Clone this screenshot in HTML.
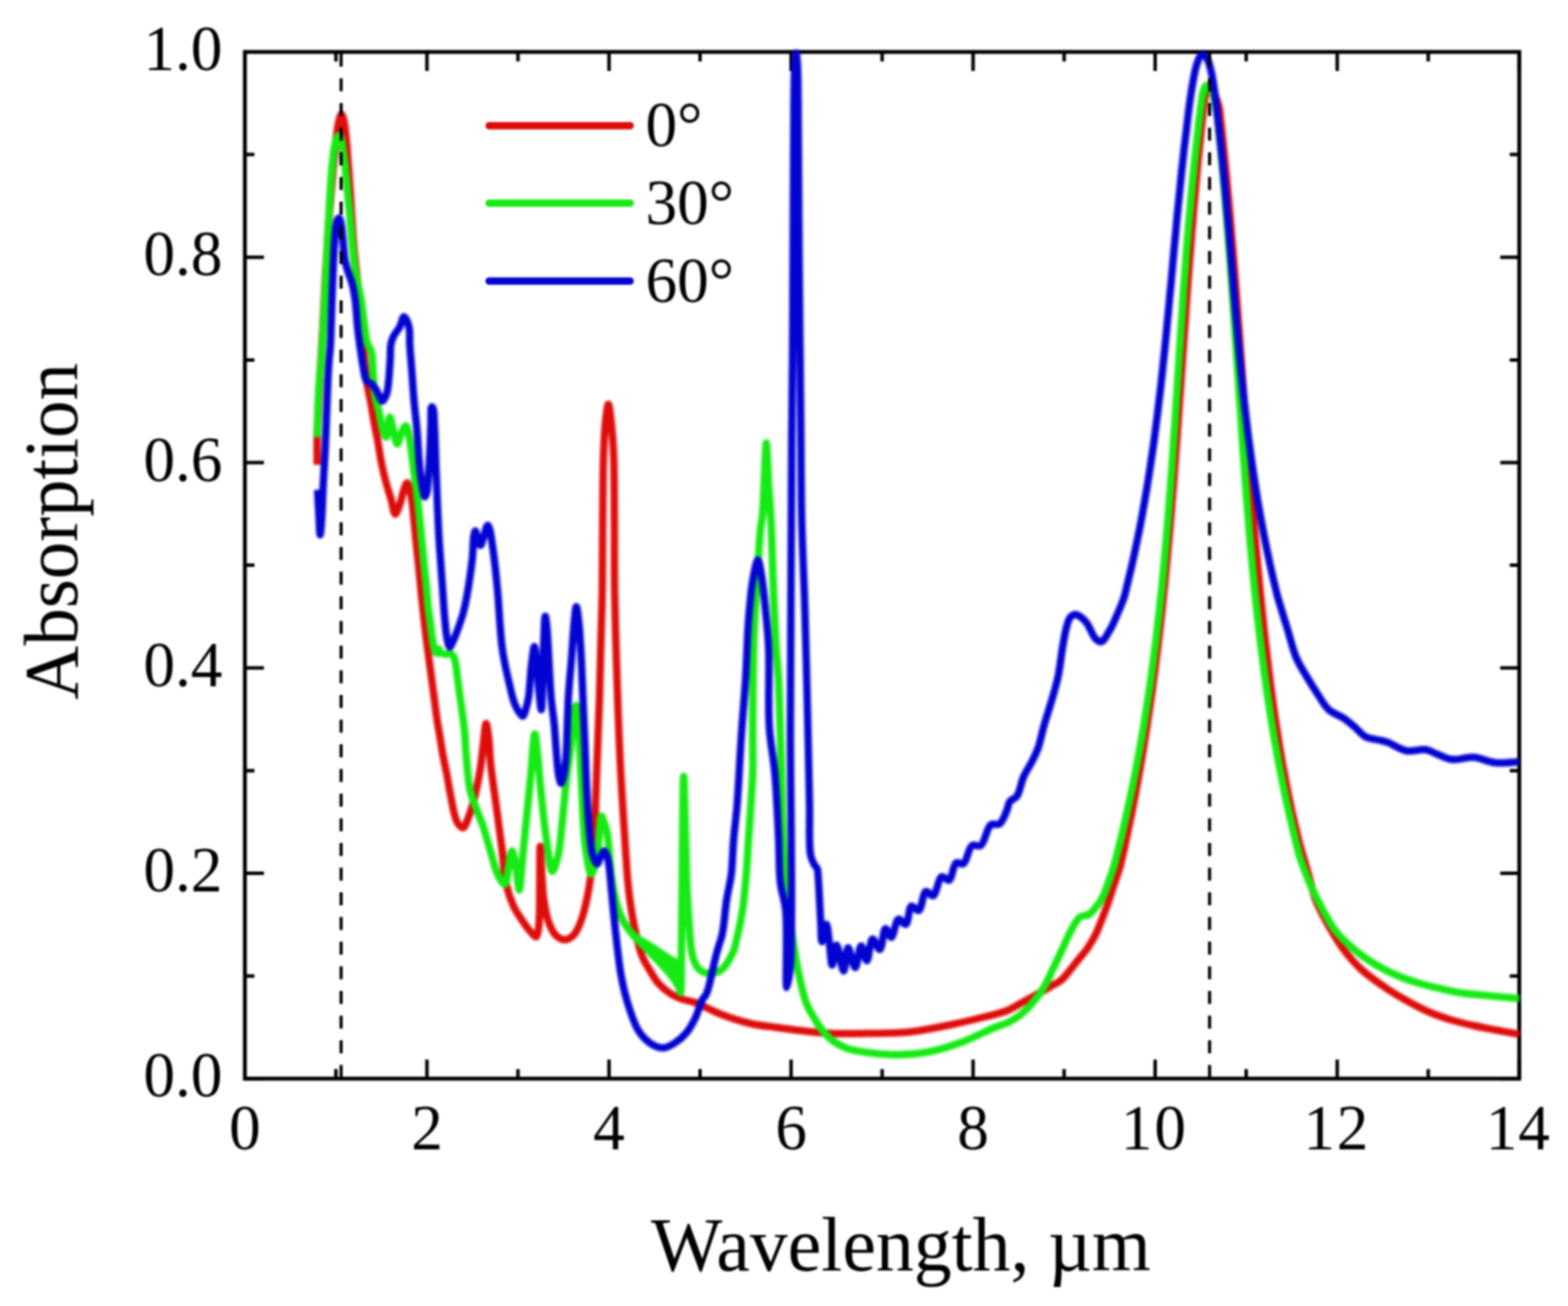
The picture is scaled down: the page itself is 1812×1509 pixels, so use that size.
<!DOCTYPE html>
<html><head><meta charset="utf-8"><style>html,body{margin:0;padding:0;background:#fff;}svg{display:block;filter:blur(1.0px);}</style></head><body>
<svg width="1812" height="1509" viewBox="0 0 1812 1509">
<rect x="0" y="0" width="1812" height="1509" fill="#fff"/>
<rect x="283.0" y="60.0" width="1472.7" height="1186.3" fill="none" stroke="#000" stroke-width="4.5"/>
<path d="M283.0,1246.3v-22M283.0,60.0v22M388.2,1246.3v-11M388.2,60.0v11M493.4,1246.3v-22M493.4,60.0v22M598.6,1246.3v-11M598.6,60.0v11M703.8,1246.3v-22M703.8,60.0v22M809.0,1246.3v-11M809.0,60.0v11M914.2,1246.3v-22M914.2,60.0v22M1019.4,1246.3v-11M1019.4,60.0v11M1124.5,1246.3v-22M1124.5,60.0v22M1229.7,1246.3v-11M1229.7,60.0v11M1334.9,1246.3v-22M1334.9,60.0v22M1440.1,1246.3v-11M1440.1,60.0v11M1545.3,1246.3v-22M1545.3,60.0v22M1650.5,1246.3v-11M1650.5,60.0v11M1755.7,1246.3v-22M1755.7,60.0v22M283.0,1246.3h22M1755.7,1246.3h-22M283.0,1127.7h11M1755.7,1127.7h-11M283.0,1009.0h22M1755.7,1009.0h-22M283.0,890.4h11M1755.7,890.4h-11M283.0,771.8h22M1755.7,771.8h-22M283.0,653.1h11M1755.7,653.1h-11M283.0,534.5h22M1755.7,534.5h-22M283.0,415.9h11M1755.7,415.9h-11M283.0,297.3h22M1755.7,297.3h-22M283.0,178.6h11M1755.7,178.6h-11M283.0,60.0h22M1755.7,60.0h-22" stroke="#000" stroke-width="4.0" fill="none"/>
<svg x="280.0" y="57.0" width="1478.7" height="1192.3" viewBox="280.0 57.0 1478.7 1192.3" overflow="hidden">
<g fill="none" stroke-width="8.5" stroke-linejoin="round" stroke-linecap="butt">
<path d="M366.50,537.00C366.50,537.00 366.29,517.52 366.50,507.00C366.74,495.31 367.43,482.57 368.00,470.00C368.59,456.93 369.23,444.07 370.00,430.00C370.87,414.26 372.04,397.43 373.00,380.00C374.05,360.91 374.95,339.09 376.00,320.00C376.96,302.57 377.94,285.73 379.00,270.00C379.95,255.92 380.96,242.89 382.00,230.00C382.97,217.94 383.96,206.21 385.00,195.00C385.96,184.61 386.91,174.22 388.00,165.00C388.93,157.09 389.64,149.03 391.00,143.00C391.98,138.65 393.34,132.03 394.50,132.00C395.50,131.97 396.68,136.67 397.50,140.00C398.76,145.11 399.23,152.65 400.00,160.00C400.94,168.98 401.70,179.61 402.50,190.00C403.37,201.21 404.12,212.02 405.00,225.00C406.10,241.27 407.17,263.74 408.50,280.00C409.56,292.99 410.75,303.34 412.00,315.00C413.25,326.67 414.86,337.93 416.00,350.00C417.22,362.88 417.96,377.11 419.00,390.00C419.97,402.06 420.87,414.56 422.00,425.00C422.92,433.48 423.81,440.93 425.00,448.00C426.03,454.11 427.48,459.50 428.50,465.00C429.46,470.15 430.12,474.85 431.00,480.00C431.94,485.49 433.03,491.95 434.00,497.00C434.78,501.07 435.45,503.48 436.30,508.00C437.65,515.18 439.20,527.15 441.00,536.00C442.64,544.07 444.55,551.83 446.50,559.00C448.24,565.40 450.28,571.07 452.00,577.00C453.67,582.74 454.82,593.84 456.70,594.00C458.33,594.14 460.67,586.42 462.30,582.00C464.18,576.90 465.32,569.37 467.00,565.00C468.12,562.09 469.41,557.93 470.50,558.00C471.77,558.08 473.02,564.13 474.00,568.00C475.29,573.08 476.04,579.44 476.90,586.00C477.92,593.86 478.63,603.25 479.50,612.00C480.39,620.92 481.28,630.00 482.20,639.00C483.12,648.00 484.11,657.08 485.00,666.00C485.87,674.75 486.64,683.60 487.50,692.00C488.31,699.90 489.17,707.60 490.00,715.00C490.77,721.90 491.51,728.51 492.30,735.00C493.05,741.16 493.79,746.84 494.60,753.00C495.45,759.49 496.41,766.36 497.30,773.00C498.18,779.59 499.03,786.17 499.90,792.70C500.76,799.17 501.63,805.47 502.50,812.00C503.40,818.73 504.19,825.76 505.20,832.50C506.19,839.09 507.41,845.44 508.50,852.00C509.61,858.67 510.50,865.02 511.80,872.20C513.30,880.45 515.57,890.56 517.10,898.70C518.40,905.63 518.99,910.79 520.50,918.00C522.46,927.35 524.66,943.64 528.30,950.00C530.24,953.39 532.97,956.84 535.00,956.50C537.56,956.07 539.67,948.34 541.70,943.30C544.21,937.08 546.27,929.74 548.30,921.70C550.79,911.83 553.27,899.00 555.00,888.30C556.59,878.51 557.33,869.04 558.50,860.00C559.58,851.67 560.60,836.02 561.75,836.00C562.78,835.98 564.19,848.21 565.00,855.00C565.92,862.74 565.73,870.25 566.70,880.00C568.08,893.83 571.08,913.33 573.30,930.00C575.52,946.67 577.98,964.08 580.00,980.00C581.84,994.52 582.31,1009.68 585.00,1021.70C587.13,1031.22 589.93,1039.38 593.30,1046.70C596.19,1052.98 599.83,1058.14 603.30,1063.30C606.52,1068.09 610.28,1073.24 613.30,1076.70C615.42,1079.13 617.75,1082.82 619.20,1082.50C620.63,1082.18 621.33,1077.98 622.00,1075.00C622.92,1070.91 622.96,1067.01 623.30,1060.00C624.10,1043.63 623.49,978.02 624.20,978.00C624.64,977.99 625.29,999.67 626.00,1010.00C626.67,1019.73 627.02,1029.19 628.30,1038.30C629.51,1046.93 630.77,1055.95 633.30,1063.30C635.47,1069.59 637.99,1076.19 641.70,1080.00C644.70,1083.09 648.90,1085.80 652.50,1085.80C656.10,1085.80 660.30,1083.09 663.30,1080.00C667.01,1076.19 669.33,1069.56 671.70,1063.30C674.49,1055.93 676.49,1046.67 678.30,1038.30C680.09,1030.01 681.27,1023.09 682.50,1013.30C684.23,999.52 685.54,982.10 686.70,963.30C688.20,939.07 688.96,907.04 690.00,880.00C690.99,854.34 692.03,829.11 692.80,805.00C693.51,782.56 693.96,761.23 694.50,740.00C695.02,719.60 695.67,701.44 696.00,680.00C696.39,655.25 696.23,626.41 696.50,600.00C696.77,574.09 696.78,544.17 697.60,523.00C698.18,508.11 698.82,495.30 700.00,485.00C700.82,477.87 702.00,467.00 703.00,467.00C704.00,467.00 705.13,477.87 706.00,485.00C707.26,495.31 708.32,508.11 709.00,523.00C709.97,544.17 709.78,574.09 710.00,600.00C710.22,626.41 709.84,650.37 710.30,680.00C710.87,717.04 712.48,768.63 713.70,805.00C714.65,833.18 715.42,854.35 716.70,880.00C718.05,907.04 719.93,937.08 721.70,963.30C723.28,986.77 724.42,1010.41 726.70,1030.00C728.51,1045.57 730.60,1058.75 733.30,1071.70C735.70,1083.22 738.15,1094.97 741.70,1104.00C744.48,1111.07 748.07,1116.45 751.40,1122.00C754.42,1127.03 756.95,1131.74 760.70,1136.00C764.62,1140.45 769.74,1144.85 774.60,1148.00C779.04,1150.88 783.59,1152.70 788.50,1154.50C793.69,1156.40 799.71,1157.06 805.00,1159.00C810.20,1160.91 815.14,1163.77 820.00,1166.00C824.56,1168.09 827.79,1169.90 833.30,1172.00C841.84,1175.26 855.47,1179.91 866.70,1182.50C877.71,1185.04 888.89,1185.97 900.00,1187.50C911.09,1189.03 922.18,1190.58 933.30,1191.70C944.41,1192.82 955.43,1193.81 966.70,1194.20C978.22,1194.60 989.10,1194.23 1001.70,1194.00C1016.51,1193.73 1033.82,1194.16 1050.00,1192.50C1066.58,1190.80 1084.57,1186.90 1100.00,1183.75C1113.44,1181.01 1126.23,1177.86 1137.50,1175.00C1146.84,1172.63 1155.50,1170.97 1163.00,1168.00C1169.40,1165.46 1174.12,1162.18 1180.00,1159.00C1186.41,1155.54 1194.06,1151.34 1200.00,1148.00C1204.81,1145.29 1208.64,1143.06 1213.00,1140.50C1217.44,1137.89 1222.55,1135.69 1226.40,1132.50C1230.05,1129.47 1232.55,1125.75 1235.70,1122.00C1239.17,1117.87 1242.77,1113.13 1246.30,1108.70C1249.83,1104.27 1253.64,1100.16 1256.90,1095.40C1260.29,1090.45 1263.52,1084.89 1266.20,1079.50C1268.79,1074.29 1270.64,1069.02 1272.80,1063.60C1275.04,1057.99 1277.27,1052.37 1279.40,1046.40C1281.68,1040.03 1283.65,1033.61 1286.00,1026.50C1288.71,1018.30 1292.82,1006.76 1294.70,1000.00C1295.84,995.90 1296.23,993.33 1297.00,990.00C1297.77,986.67 1298.57,983.34 1299.30,980.00C1300.03,976.67 1300.68,973.33 1301.40,970.00C1302.12,966.66 1302.90,963.34 1303.60,960.00C1304.30,956.67 1304.92,953.33 1305.60,950.00C1306.28,946.67 1307.03,943.34 1307.70,940.00C1308.37,936.67 1308.95,933.33 1309.60,930.00C1310.25,926.67 1310.97,923.34 1311.60,920.00C1312.23,916.67 1312.78,913.33 1313.40,910.00C1314.02,906.67 1314.68,903.33 1315.30,900.00C1315.92,896.67 1316.52,893.33 1317.10,890.00C1317.68,886.67 1318.23,883.33 1318.80,880.00C1319.37,876.67 1319.95,873.33 1320.50,870.00C1321.05,866.67 1321.57,863.33 1322.10,860.00C1322.63,856.67 1323.17,853.33 1323.70,850.00C1324.23,846.67 1324.78,843.33 1325.30,840.00C1325.82,836.67 1326.30,833.33 1326.80,830.00C1327.30,826.67 1327.82,823.33 1328.30,820.00C1328.78,816.67 1329.22,813.33 1329.70,810.00C1330.18,806.67 1330.73,803.34 1331.20,800.00C1331.67,796.67 1332.05,793.33 1332.50,790.00C1332.95,786.67 1333.45,783.33 1333.90,780.00C1334.35,776.67 1334.78,773.33 1335.20,770.00C1335.62,766.67 1335.98,763.33 1336.40,760.00C1336.82,756.67 1337.28,753.33 1337.70,750.00C1338.12,746.67 1338.52,743.33 1338.90,740.00C1339.28,736.67 1339.62,733.33 1340.00,730.00C1340.38,726.67 1340.82,723.33 1341.20,720.00C1341.58,716.67 1341.93,713.33 1342.30,710.00C1342.67,706.67 1343.05,703.33 1343.40,700.00C1343.75,696.67 1344.07,693.33 1344.40,690.00C1344.73,686.67 1345.07,683.33 1345.40,680.00C1345.73,676.67 1346.07,673.33 1346.40,670.00C1346.73,666.67 1347.07,663.33 1347.40,660.00C1347.73,656.67 1348.08,653.33 1348.40,650.00C1348.72,646.67 1349.00,643.33 1349.30,640.00C1349.60,636.67 1349.90,633.33 1350.20,630.00C1350.50,626.67 1350.80,623.33 1351.10,620.00C1351.40,616.67 1351.72,613.33 1352.00,610.00C1352.28,606.67 1352.52,603.33 1352.80,600.00C1353.08,596.67 1353.42,593.33 1353.70,590.00C1353.98,586.67 1354.23,583.33 1354.50,580.00C1354.77,576.67 1355.03,573.33 1355.30,570.00C1355.57,566.67 1355.83,563.33 1356.10,560.00C1356.37,556.67 1356.65,553.33 1356.90,550.00C1357.15,546.67 1357.35,543.33 1357.60,540.00C1357.85,536.67 1358.15,533.33 1358.40,530.00C1358.65,526.67 1358.85,523.33 1359.10,520.00C1359.35,516.67 1359.65,513.33 1359.90,510.00C1360.15,506.67 1360.37,503.33 1360.60,500.00C1360.83,496.67 1361.07,493.33 1361.30,490.00C1361.53,486.67 1361.77,483.33 1362.00,480.00C1362.23,476.67 1362.47,473.33 1362.70,470.00C1362.93,466.67 1363.17,463.33 1363.40,460.00C1363.63,456.67 1363.87,453.33 1364.10,450.00C1364.33,446.67 1364.57,443.33 1364.80,440.00C1365.03,436.67 1365.27,433.33 1365.50,430.00C1365.73,426.67 1365.97,423.33 1366.20,420.00C1366.43,416.67 1366.67,413.33 1366.90,410.00C1367.13,406.67 1367.37,403.33 1367.60,400.00C1367.83,396.67 1368.07,393.33 1368.30,390.00C1368.53,386.67 1368.77,383.33 1369.00,380.00C1369.23,376.67 1369.47,373.33 1369.70,370.00C1369.93,366.67 1370.17,363.33 1370.40,360.00C1370.63,356.67 1370.87,353.33 1371.10,350.00C1371.33,346.67 1371.55,343.33 1371.80,340.00C1372.05,336.67 1372.35,333.33 1372.60,330.00C1372.85,326.67 1373.07,323.33 1373.30,320.00C1373.53,316.67 1373.75,313.33 1374.00,310.00C1374.25,306.67 1374.53,303.33 1374.80,300.00C1375.07,296.67 1375.35,293.33 1375.60,290.00C1375.85,286.67 1376.05,283.33 1376.30,280.00C1376.55,276.67 1376.82,273.33 1377.10,270.00C1377.38,266.67 1377.72,263.33 1378.00,260.00C1378.28,256.67 1378.53,253.33 1378.80,250.00C1379.07,246.67 1379.32,243.33 1379.60,240.00C1379.88,236.67 1380.20,233.33 1380.50,230.00C1380.80,226.67 1381.10,223.33 1381.40,220.00C1381.70,216.67 1382.00,213.33 1382.30,210.00C1382.60,206.67 1382.90,203.33 1383.20,200.00C1383.50,196.67 1383.78,193.33 1384.10,190.00C1384.42,186.67 1384.77,183.33 1385.10,180.00C1385.43,176.67 1385.77,173.33 1386.10,170.00C1386.43,166.67 1386.77,163.33 1387.10,160.00C1387.43,156.67 1387.75,153.33 1388.10,150.00C1388.45,146.67 1388.83,143.33 1389.20,140.00C1389.57,136.67 1389.93,133.33 1390.30,130.00C1390.67,126.67 1390.89,123.72 1391.40,120.00C1392.04,115.28 1392.58,107.96 1394.00,104.00C1394.93,101.41 1396.19,98.22 1397.50,98.00C1398.57,97.82 1399.96,99.50 1401.00,101.00C1402.66,103.39 1403.70,108.17 1405.00,112.00C1406.40,116.14 1408.24,120.91 1409.10,125.00C1409.84,128.51 1409.83,131.67 1410.20,135.00C1410.57,138.33 1410.93,141.67 1411.30,145.00C1411.67,148.33 1412.05,151.67 1412.40,155.00C1412.75,158.33 1413.07,161.67 1413.40,165.00C1413.73,168.33 1414.07,171.67 1414.40,175.00C1414.73,178.33 1415.07,181.67 1415.40,185.00C1415.73,188.33 1416.07,191.67 1416.40,195.00C1416.73,198.33 1417.08,201.67 1417.40,205.00C1417.72,208.33 1418.00,211.67 1418.30,215.00C1418.60,218.33 1418.90,221.67 1419.20,225.00C1419.50,228.33 1419.80,231.67 1420.10,235.00C1420.40,238.33 1420.70,241.67 1421.00,245.00C1421.30,248.33 1421.62,251.67 1421.90,255.00C1422.18,258.33 1422.43,261.67 1422.70,265.00C1422.97,268.33 1423.22,271.67 1423.50,275.00C1423.78,278.33 1424.12,281.67 1424.40,285.00C1424.68,288.33 1424.93,291.67 1425.20,295.00C1425.47,298.33 1425.73,301.67 1426.00,305.00C1426.27,308.33 1426.53,311.67 1426.80,315.00C1427.07,318.33 1427.35,321.67 1427.60,325.00C1427.85,328.33 1428.05,331.67 1428.30,335.00C1428.55,338.33 1428.85,341.67 1429.10,345.00C1429.35,348.33 1429.55,351.67 1429.80,355.00C1430.05,358.33 1430.35,361.67 1430.60,365.00C1430.85,368.33 1431.05,371.67 1431.30,375.00C1431.55,378.33 1431.85,381.67 1432.10,385.00C1432.35,388.33 1432.57,391.67 1432.80,395.00C1433.03,398.33 1433.25,401.67 1433.50,405.00C1433.75,408.33 1434.05,411.67 1434.30,415.00C1434.55,418.33 1434.77,421.67 1435.00,425.00C1435.23,428.33 1435.45,431.67 1435.70,435.00C1435.95,438.33 1436.25,441.67 1436.50,445.00C1436.75,448.33 1436.97,451.67 1437.20,455.00C1437.43,458.33 1437.65,461.67 1437.90,465.00C1438.15,468.33 1438.45,471.67 1438.70,475.00C1438.95,478.33 1439.15,481.67 1439.40,485.00C1439.65,488.33 1439.95,491.67 1440.20,495.00C1440.45,498.33 1440.65,501.67 1440.90,505.00C1441.15,508.33 1441.43,511.67 1441.70,515.00C1441.97,518.33 1442.23,521.67 1442.50,525.00C1442.77,528.33 1443.03,531.67 1443.30,535.00C1443.57,538.33 1443.83,541.67 1444.10,545.00C1444.37,548.33 1444.63,551.67 1444.90,555.00C1445.17,558.33 1445.43,561.67 1445.70,565.00C1445.97,568.33 1446.23,571.67 1446.50,575.00C1446.77,578.33 1447.02,581.67 1447.30,585.00C1447.58,588.33 1447.92,591.67 1448.20,595.00C1448.48,598.33 1448.72,601.67 1449.00,605.00C1449.28,608.33 1449.60,611.67 1449.90,615.00C1450.20,618.33 1450.50,621.67 1450.80,625.00C1451.10,628.33 1451.40,631.67 1451.70,635.00C1452.00,638.33 1452.30,641.67 1452.60,645.00C1452.90,648.33 1453.18,651.67 1453.50,655.00C1453.82,658.33 1454.18,661.67 1454.50,665.00C1454.82,668.33 1455.08,671.67 1455.40,675.00C1455.72,678.33 1456.07,681.67 1456.40,685.00C1456.73,688.33 1457.07,691.67 1457.40,695.00C1457.73,698.33 1458.05,701.67 1458.40,705.00C1458.75,708.33 1459.15,711.67 1459.50,715.00C1459.85,718.33 1460.15,721.67 1460.50,725.00C1460.85,728.33 1461.23,731.67 1461.60,735.00C1461.97,738.33 1462.32,741.67 1462.70,745.00C1463.08,748.33 1463.50,751.67 1463.90,755.00C1464.30,758.33 1464.70,761.67 1465.10,765.00C1465.50,768.33 1465.90,771.67 1466.30,775.00C1466.70,778.33 1467.08,781.67 1467.50,785.00C1467.92,788.33 1468.37,791.67 1468.80,795.00C1469.23,798.33 1469.65,801.67 1470.10,805.00C1470.55,808.33 1471.03,811.67 1471.50,815.00C1471.97,818.33 1472.42,821.67 1472.90,825.00C1473.38,828.33 1473.90,831.67 1474.40,835.00C1474.90,838.33 1475.38,841.67 1475.90,845.00C1476.42,848.33 1476.97,851.67 1477.50,855.00C1478.03,858.33 1478.55,861.67 1479.10,865.00C1479.65,868.33 1480.23,871.67 1480.80,875.00C1481.37,878.33 1481.90,881.67 1482.50,885.00C1483.10,888.34 1483.77,891.67 1484.40,895.00C1485.03,898.33 1485.67,901.67 1486.30,905.00C1486.93,908.33 1487.53,911.67 1488.20,915.00C1488.87,918.34 1489.60,921.67 1490.30,925.00C1491.00,928.33 1491.67,931.67 1492.40,935.00C1493.13,938.34 1493.93,941.67 1494.70,945.00C1495.47,948.33 1496.22,951.67 1497.00,955.00C1497.78,958.34 1498.58,961.67 1499.40,965.00C1500.22,968.34 1500.73,970.67 1501.90,975.00C1504.09,983.14 1508.79,998.78 1512.00,1010.00C1514.97,1020.38 1516.69,1030.18 1520.50,1040.00C1524.45,1050.19 1530.04,1060.35 1535.50,1070.00C1540.88,1079.51 1546.60,1089.03 1553.00,1097.50C1559.15,1105.64 1565.25,1112.87 1573.00,1120.00C1581.65,1127.96 1593.29,1135.97 1603.00,1142.50C1611.56,1148.26 1619.58,1152.88 1628.00,1157.50C1636.25,1162.03 1644.55,1166.43 1653.00,1170.00C1661.22,1173.48 1669.61,1176.24 1678.00,1178.75C1686.28,1181.23 1694.64,1183.12 1703.00,1185.00C1711.31,1186.87 1719.46,1188.37 1728.00,1190.00C1736.94,1191.71 1755.50,1195.00 1755.50,1195.00" stroke="#de0c0a"/>
<path d="M366.50,505.00C366.50,505.00 367.06,481.22 367.50,470.00C367.91,459.61 368.35,449.22 369.00,440.00C369.56,432.09 370.35,426.33 371.00,418.00C371.86,407.06 372.72,393.54 373.50,380.00C374.40,364.48 375.21,345.74 376.00,330.00C376.70,315.92 377.33,303.33 378.00,290.00C378.67,276.67 379.31,262.89 380.00,250.00C380.65,237.94 381.21,226.21 382.00,215.00C382.73,204.61 383.45,193.97 384.50,185.00C385.36,177.64 386.03,170.09 387.50,165.00C388.46,161.65 389.68,157.25 391.00,157.00C391.92,156.83 393.23,158.49 394.00,160.00C395.31,162.55 395.33,167.59 396.00,172.00C396.82,177.39 397.72,183.50 398.50,190.00C399.41,197.64 400.13,206.29 401.00,215.00C401.95,224.54 403.04,234.61 404.00,245.00C405.04,256.21 405.83,268.34 407.00,280.00C408.17,291.67 409.25,303.82 411.00,315.00C412.63,325.42 415.33,334.97 417.00,345.00C418.66,354.97 419.73,366.01 421.00,375.00C422.04,382.34 422.61,390.11 424.00,395.00C424.85,398.00 426.05,399.75 427.00,402.00C427.88,404.07 428.86,405.30 429.50,408.00C430.67,412.97 430.44,422.43 431.00,430.00C431.60,438.07 431.75,447.08 433.00,455.00C434.16,462.35 436.47,469.17 438.00,476.00C439.45,482.48 440.36,489.74 442.00,495.00C443.23,498.93 445.14,505.12 446.20,505.00C447.37,504.87 447.74,496.05 448.50,492.00C449.17,488.44 449.67,482.03 450.50,482.00C451.45,481.97 452.72,490.32 454.00,495.00C455.51,500.52 457.19,512.91 459.00,513.00C460.56,513.08 462.14,503.73 464.00,500.00C465.53,496.93 467.62,491.83 469.00,492.00C470.52,492.19 471.59,499.22 472.50,503.00C473.44,506.88 473.87,510.77 474.50,515.00C475.21,519.72 475.81,524.64 476.50,530.00C477.30,536.19 478.09,543.10 479.00,550.00C479.98,557.40 481.23,565.02 482.20,573.00C483.25,581.63 484.11,591.08 485.00,600.00C485.87,608.75 486.67,617.33 487.50,626.00C488.33,634.67 489.13,643.25 490.00,652.00C490.89,660.92 492.00,670.56 492.80,679.00C493.50,686.44 493.84,693.09 494.60,700.00C495.35,706.76 496.42,713.33 497.30,720.00C498.18,726.67 498.90,734.20 499.90,740.00C500.68,744.53 501.24,749.42 502.50,752.00C503.21,753.45 504.29,755.11 505.00,755.00C505.84,754.87 506.30,750.03 507.00,750.00C507.64,749.97 507.87,753.02 509.00,754.00C510.34,755.17 513.08,755.88 515.00,756.00C516.73,756.11 518.49,754.66 520.00,755.00C521.49,755.34 522.98,756.54 524.00,758.00C525.32,759.89 525.69,762.70 526.40,766.00C527.50,771.13 528.12,779.33 529.00,786.00C529.88,792.67 530.78,799.33 531.70,806.00C532.62,812.67 533.62,819.33 534.50,826.00C535.38,832.66 536.35,839.02 537.00,846.00C537.71,853.63 537.71,860.84 538.50,870.00C539.57,882.33 540.75,901.73 543.30,913.30C545.07,921.35 547.57,926.52 550.00,933.30C552.55,940.41 555.67,947.23 558.30,955.00C561.27,963.76 563.88,974.01 566.70,983.30C569.45,992.34 571.59,1003.11 575.00,1010.00C577.44,1014.93 581.21,1022.13 583.30,1021.70C585.91,1021.17 586.52,1006.76 588.00,1000.00C589.30,994.07 590.36,983.31 591.70,983.30C593.23,983.29 595.33,997.61 596.70,1005.00C598.11,1012.60 598.97,1028.32 600.00,1028.30C601.20,1028.28 602.10,1008.44 603.30,996.70C604.81,981.94 606.63,963.37 608.30,946.70C609.97,930.03 611.67,913.26 613.30,896.70C614.91,880.36 616.48,848.03 618.00,848.00C619.02,847.98 620.02,861.42 621.00,870.00C622.37,882.00 623.40,897.80 625.00,913.30C626.87,931.32 629.13,954.75 631.70,971.70C633.70,984.89 635.63,1006.48 638.30,1006.70C640.28,1006.86 643.21,995.79 645.00,988.30C647.62,977.34 648.40,961.21 650.00,946.70C651.75,930.81 653.19,912.07 655.00,896.70C656.56,883.51 658.63,871.63 660.00,860.00C661.24,849.51 661.90,838.27 663.00,830.00C663.78,824.13 664.67,815.00 665.50,815.00C666.33,815.00 667.25,823.14 668.00,830.00C669.61,844.74 670.31,875.89 671.70,900.00C673.19,925.78 673.87,959.83 676.70,980.00C678.45,992.49 680.89,1009.90 683.30,1010.00C685.38,1010.09 688.20,996.95 690.00,988.30C692.54,976.04 692.78,943.33 695.00,943.00C695.91,942.87 697.04,947.26 698.00,950.00C699.30,953.69 700.59,957.39 701.70,963.30C703.82,974.58 704.48,998.36 706.70,1013.30C708.53,1025.60 710.37,1037.11 713.30,1046.70C715.64,1054.35 718.04,1060.61 721.70,1066.70C725.30,1072.69 730.54,1079.14 735.00,1083.00C738.32,1085.87 741.68,1086.96 745.00,1089.00C748.34,1091.06 751.68,1093.14 755.00,1095.30C758.35,1097.48 761.66,1099.80 765.00,1102.00C768.33,1104.19 772.12,1106.49 775.00,1108.50C777.28,1110.10 779.53,1110.61 781.00,1113.00C783.23,1116.62 783.08,1124.33 784.00,1130.00C784.92,1135.66 785.90,1147.04 786.50,1147.00C787.48,1146.94 787.21,1118.59 787.50,1100.00C787.92,1072.89 788.09,1033.58 788.50,1000.00C788.92,965.92 789.30,897.01 790.00,897.00C790.55,897.00 791.35,938.45 792.00,960.00C792.69,982.72 793.09,1009.92 794.00,1030.00C794.69,1045.19 795.69,1058.50 796.50,1070.00C797.11,1078.72 797.39,1086.30 798.30,1093.00C799.01,1098.27 799.75,1102.87 801.00,1107.00C802.05,1110.48 803.35,1113.82 804.90,1116.30C806.12,1118.25 807.37,1119.72 809.00,1121.00C810.66,1122.30 812.78,1123.33 814.80,1124.00C816.78,1124.65 818.88,1125.05 821.00,1125.00C823.27,1124.94 825.90,1124.24 828.00,1123.50C829.85,1122.85 831.42,1122.14 833.00,1121.00C834.78,1119.72 836.47,1117.90 838.00,1116.00C839.66,1113.94 841.00,1111.64 842.50,1109.00C844.33,1105.79 846.50,1102.04 848.00,1098.00C849.68,1093.47 850.58,1088.17 851.80,1083.00C853.09,1077.52 854.40,1071.68 855.50,1066.00C856.60,1060.35 857.47,1055.86 858.40,1049.00C859.81,1038.59 861.30,1022.68 862.40,1009.50C863.50,996.34 864.12,983.21 865.00,970.00C865.89,956.71 866.87,943.34 867.70,930.00C868.53,916.67 869.68,902.60 870.00,890.00C870.29,878.74 869.77,872.03 869.80,858.00C869.85,831.06 870.07,771.01 871.00,740.00C871.61,719.80 872.57,706.41 873.50,690.00C874.41,674.09 875.50,657.28 876.50,643.00C877.34,631.03 878.02,618.85 879.00,610.00C879.66,604.01 880.60,601.06 881.20,595.00C882.11,585.79 882.47,571.22 883.00,560.00C883.49,549.62 883.82,538.73 884.30,530.00C884.67,523.24 885.08,512.00 885.50,512.00C885.92,512.00 886.40,523.24 886.80,530.00C887.32,538.73 887.60,549.62 888.20,560.00C888.85,571.22 889.98,584.31 890.60,595.00C891.13,604.03 891.44,610.69 891.80,620.00C892.26,631.77 892.55,646.67 893.00,660.00C893.45,673.33 893.88,685.93 894.50,700.00C895.19,715.74 896.04,734.70 897.00,750.00C897.81,762.99 898.95,771.93 899.70,786.00C900.76,805.87 901.08,829.57 902.00,858.00C903.34,899.31 903.99,970.36 907.00,1010.00C908.94,1035.60 911.92,1054.14 914.50,1073.00C916.61,1088.43 918.22,1100.98 921.00,1115.00C923.83,1129.31 927.39,1147.11 931.40,1158.00C934.03,1165.15 936.85,1169.60 940.00,1175.00C943.06,1180.25 946.17,1185.33 950.00,1190.00C953.91,1194.77 958.29,1199.68 963.30,1203.30C968.29,1206.91 973.91,1209.61 980.00,1211.70C986.62,1213.97 993.53,1214.88 1001.70,1216.00C1012.11,1217.43 1025.43,1218.89 1037.50,1218.75C1049.86,1218.61 1062.62,1217.45 1075.00,1215.00C1087.62,1212.50 1100.15,1208.34 1112.50,1203.75C1125.15,1199.05 1140.07,1191.07 1150.00,1187.00C1156.40,1184.37 1160.97,1183.52 1166.00,1181.00C1170.96,1178.51 1175.60,1175.55 1180.00,1172.00C1184.63,1168.27 1188.81,1163.90 1193.00,1159.00C1197.68,1153.53 1202.53,1147.08 1206.50,1140.50C1210.56,1133.77 1213.61,1126.01 1217.00,1119.00C1220.23,1112.32 1223.43,1105.75 1226.40,1099.40C1229.18,1093.44 1231.71,1087.35 1234.30,1082.00C1236.57,1077.32 1238.61,1072.85 1241.00,1069.00C1243.08,1065.63 1245.38,1061.80 1247.60,1060.00C1249.06,1058.81 1250.46,1058.42 1252.00,1058.00C1253.56,1057.58 1255.20,1058.25 1256.90,1057.50C1259.39,1056.40 1262.24,1053.32 1264.80,1050.40C1267.97,1046.78 1271.40,1041.89 1274.00,1037.00C1276.76,1031.81 1278.53,1025.92 1280.70,1020.00C1283.04,1013.63 1285.84,1005.55 1287.50,1000.00C1288.66,996.12 1289.25,993.34 1290.10,990.00C1290.95,986.67 1291.77,983.33 1292.60,980.00C1293.43,976.67 1294.28,973.34 1295.10,970.00C1295.92,966.67 1296.72,963.34 1297.50,960.00C1298.28,956.67 1299.03,953.33 1299.80,950.00C1300.57,946.67 1301.35,943.34 1302.10,940.00C1302.85,936.67 1303.58,933.34 1304.30,930.00C1305.02,926.67 1305.70,923.33 1306.40,920.00C1307.10,916.67 1307.82,913.33 1308.50,910.00C1309.18,906.67 1309.83,903.33 1310.50,900.00C1311.17,896.67 1311.85,893.33 1312.50,890.00C1313.15,886.67 1313.78,883.33 1314.40,880.00C1315.02,876.67 1315.60,873.33 1316.20,870.00C1316.80,866.67 1317.40,863.33 1318.00,860.00C1318.60,856.67 1319.22,853.33 1319.80,850.00C1320.38,846.67 1320.95,843.33 1321.50,840.00C1322.05,836.67 1322.57,833.33 1323.10,830.00C1323.63,826.67 1324.18,823.33 1324.70,820.00C1325.22,816.67 1325.70,813.33 1326.20,810.00C1326.70,806.67 1327.20,803.33 1327.70,800.00C1328.20,796.67 1328.72,793.33 1329.20,790.00C1329.68,786.67 1330.15,783.33 1330.60,780.00C1331.05,776.67 1331.47,773.33 1331.90,770.00C1332.33,766.67 1332.77,763.33 1333.20,760.00C1333.63,756.67 1334.07,753.33 1334.50,750.00C1334.93,746.67 1335.38,743.33 1335.80,740.00C1336.22,736.67 1336.62,733.33 1337.00,730.00C1337.38,726.67 1337.72,723.33 1338.10,720.00C1338.48,716.67 1338.92,713.33 1339.30,710.00C1339.68,706.67 1340.05,703.33 1340.40,700.00C1340.75,696.67 1341.05,693.33 1341.40,690.00C1341.75,686.67 1342.15,683.33 1342.50,680.00C1342.85,676.67 1343.18,673.33 1343.50,670.00C1343.82,666.67 1344.08,663.33 1344.40,660.00C1344.72,656.67 1345.08,653.33 1345.40,650.00C1345.72,646.67 1346.00,643.33 1346.30,640.00C1346.60,636.67 1346.92,633.33 1347.20,630.00C1347.48,626.67 1347.72,623.33 1348.00,620.00C1348.28,616.67 1348.62,613.33 1348.90,610.00C1349.18,606.67 1349.43,603.33 1349.70,600.00C1349.97,596.67 1350.23,593.33 1350.50,590.00C1350.77,586.67 1351.05,583.33 1351.30,580.00C1351.55,576.67 1351.75,573.33 1352.00,570.00C1352.25,566.67 1352.55,563.33 1352.80,560.00C1353.05,556.67 1353.27,553.33 1353.50,550.00C1353.73,546.67 1353.97,543.33 1354.20,540.00C1354.43,536.67 1354.67,533.33 1354.90,530.00C1355.13,526.67 1355.37,523.33 1355.60,520.00C1355.83,516.67 1356.07,513.33 1356.30,510.00C1356.53,506.67 1356.77,503.33 1357.00,500.00C1357.23,496.67 1357.48,493.33 1357.70,490.00C1357.92,486.67 1358.08,483.33 1358.30,480.00C1358.52,476.67 1358.78,473.33 1359.00,470.00C1359.22,466.67 1359.38,463.33 1359.60,460.00C1359.82,456.67 1360.08,453.33 1360.30,450.00C1360.52,446.67 1360.68,443.33 1360.90,440.00C1361.12,436.67 1361.38,433.33 1361.60,430.00C1361.82,426.67 1362.00,423.33 1362.20,420.00C1362.40,416.67 1362.58,413.33 1362.80,410.00C1363.02,406.67 1363.28,403.33 1363.50,400.00C1363.72,396.67 1363.88,393.33 1364.10,390.00C1364.32,386.67 1364.57,383.33 1364.80,380.00C1365.03,376.67 1365.27,373.33 1365.50,370.00C1365.73,366.67 1365.98,363.33 1366.20,360.00C1366.42,356.67 1366.58,353.33 1366.80,350.00C1367.02,346.67 1367.27,343.33 1367.50,340.00C1367.73,336.67 1367.95,333.33 1368.20,330.00C1368.45,326.67 1368.75,323.33 1369.00,320.00C1369.25,316.67 1369.45,313.33 1369.70,310.00C1369.95,306.67 1370.25,303.33 1370.50,300.00C1370.75,296.67 1370.95,293.33 1371.20,290.00C1371.45,286.67 1371.73,283.33 1372.00,280.00C1372.27,276.67 1372.53,273.33 1372.80,270.00C1373.07,266.67 1373.32,263.33 1373.60,260.00C1373.88,256.67 1374.20,253.33 1374.50,250.00C1374.80,246.67 1375.10,243.33 1375.40,240.00C1375.70,236.67 1376.00,233.33 1376.30,230.00C1376.60,226.67 1376.90,223.33 1377.20,220.00C1377.50,216.67 1377.78,213.33 1378.10,210.00C1378.42,206.67 1378.77,203.33 1379.10,200.00C1379.43,196.67 1379.75,193.33 1380.10,190.00C1380.45,186.67 1380.83,183.33 1381.20,180.00C1381.57,176.67 1381.93,173.33 1382.30,170.00C1382.67,166.67 1383.03,163.33 1383.40,160.00C1383.77,156.67 1384.12,153.33 1384.50,150.00C1384.88,146.67 1385.30,143.33 1385.70,140.00C1386.10,136.67 1386.50,133.33 1386.90,130.00C1387.30,126.67 1387.57,123.61 1388.10,120.00C1388.72,115.72 1389.37,109.81 1390.50,106.00C1391.32,103.21 1392.08,99.52 1393.50,99.00C1394.59,98.60 1396.36,99.86 1397.50,101.00C1399.01,102.51 1399.97,105.41 1401.00,108.00C1402.19,110.99 1403.13,114.36 1404.00,118.00C1405.01,122.25 1405.79,127.03 1406.50,132.00C1407.30,137.61 1407.87,144.87 1408.40,150.00C1408.79,153.82 1409.07,156.67 1409.40,160.00C1409.73,163.33 1410.08,166.67 1410.40,170.00C1410.72,173.33 1410.98,176.67 1411.30,180.00C1411.62,183.33 1411.98,186.67 1412.30,190.00C1412.62,193.33 1412.90,196.67 1413.20,200.00C1413.50,203.33 1413.80,206.67 1414.10,210.00C1414.40,213.33 1414.72,216.67 1415.00,220.00C1415.28,223.33 1415.53,226.67 1415.80,230.00C1416.07,233.33 1416.32,236.67 1416.60,240.00C1416.88,243.33 1417.22,246.67 1417.50,250.00C1417.78,253.33 1418.03,256.67 1418.30,260.00C1418.57,263.33 1418.85,266.67 1419.10,270.00C1419.35,273.33 1419.55,276.67 1419.80,280.00C1420.05,283.33 1420.35,286.67 1420.60,290.00C1420.85,293.33 1421.05,296.67 1421.30,300.00C1421.55,303.33 1421.85,306.67 1422.10,310.00C1422.35,313.33 1422.57,316.67 1422.80,320.00C1423.03,323.33 1423.27,326.67 1423.50,330.00C1423.73,333.33 1423.97,336.67 1424.20,340.00C1424.43,343.33 1424.67,346.67 1424.90,350.00C1425.13,353.33 1425.37,356.67 1425.60,360.00C1425.83,363.33 1426.07,366.67 1426.30,370.00C1426.53,373.33 1426.77,376.67 1427.00,380.00C1427.23,383.33 1427.47,386.67 1427.70,390.00C1427.93,393.33 1428.18,396.67 1428.40,400.00C1428.62,403.33 1428.78,406.67 1429.00,410.00C1429.22,413.33 1429.47,416.67 1429.70,420.00C1429.93,423.33 1430.17,426.67 1430.40,430.00C1430.63,433.33 1430.88,436.67 1431.10,440.00C1431.32,443.33 1431.48,446.67 1431.70,450.00C1431.92,453.33 1432.17,456.67 1432.40,460.00C1432.63,463.33 1432.87,466.67 1433.10,470.00C1433.33,473.33 1433.58,476.67 1433.80,480.00C1434.02,483.33 1434.18,486.67 1434.40,490.00C1434.62,493.33 1434.87,496.67 1435.10,500.00C1435.33,503.33 1435.57,506.67 1435.80,510.00C1436.03,513.33 1436.27,516.67 1436.50,520.00C1436.73,523.33 1436.95,526.67 1437.20,530.00C1437.45,533.33 1437.75,536.67 1438.00,540.00C1438.25,543.33 1438.47,546.67 1438.70,550.00C1438.93,553.33 1439.15,556.67 1439.40,560.00C1439.65,563.33 1439.93,566.67 1440.20,570.00C1440.47,573.33 1440.73,576.67 1441.00,580.00C1441.27,583.33 1441.53,586.67 1441.80,590.00C1442.07,593.33 1442.33,596.67 1442.60,600.00C1442.87,603.33 1443.13,606.67 1443.40,610.00C1443.67,613.33 1443.92,616.67 1444.20,620.00C1444.48,623.33 1444.80,626.67 1445.10,630.00C1445.40,633.33 1445.70,636.67 1446.00,640.00C1446.30,643.33 1446.60,646.67 1446.90,650.00C1447.20,653.33 1447.48,656.67 1447.80,660.00C1448.12,663.33 1448.47,666.67 1448.80,670.00C1449.13,673.33 1449.47,676.67 1449.80,680.00C1450.13,683.33 1450.45,686.67 1450.80,690.00C1451.15,693.33 1451.55,696.67 1451.90,700.00C1452.25,703.33 1452.53,706.67 1452.90,710.00C1453.27,713.34 1453.72,716.67 1454.10,720.00C1454.48,723.33 1454.82,726.67 1455.20,730.00C1455.58,733.33 1456.00,736.67 1456.40,740.00C1456.80,743.33 1457.18,746.67 1457.60,750.00C1458.02,753.33 1458.47,756.67 1458.90,760.00C1459.33,763.33 1459.77,766.67 1460.20,770.00C1460.63,773.33 1461.05,776.67 1461.50,780.00C1461.95,783.33 1462.43,786.67 1462.90,790.00C1463.37,793.33 1463.82,796.67 1464.30,800.00C1464.78,803.33 1465.30,806.67 1465.80,810.00C1466.30,813.33 1466.80,816.67 1467.30,820.00C1467.80,823.33 1468.28,826.67 1468.80,830.00C1469.32,833.33 1469.85,836.67 1470.40,840.00C1470.95,843.33 1471.53,846.67 1472.10,850.00C1472.67,853.33 1473.22,856.67 1473.80,860.00C1474.38,863.33 1475.00,866.67 1475.60,870.00C1476.20,873.33 1476.78,876.67 1477.40,880.00C1478.02,883.33 1478.65,886.67 1479.30,890.00C1479.95,893.33 1480.63,896.67 1481.30,900.00C1481.97,903.33 1482.62,906.67 1483.30,910.00C1483.98,913.33 1484.70,916.67 1485.40,920.00C1486.10,923.33 1486.77,926.67 1487.50,930.00C1488.23,933.34 1489.03,936.67 1489.80,940.00C1490.57,943.33 1491.33,946.67 1492.10,950.00C1492.87,953.33 1493.60,956.67 1494.40,960.00C1495.20,963.34 1496.07,966.67 1496.90,970.00C1497.73,973.33 1498.55,976.67 1499.40,980.00C1500.25,983.34 1500.62,985.71 1502.00,990.00C1504.63,998.18 1510.82,1014.41 1515.50,1025.00C1519.54,1034.14 1523.47,1041.75 1528.00,1050.00C1532.62,1058.42 1536.93,1067.23 1543.00,1075.00C1549.34,1083.12 1557.49,1090.78 1565.50,1097.50C1573.34,1104.08 1581.98,1109.92 1590.50,1115.00C1598.66,1119.86 1607.05,1123.93 1615.50,1127.50C1623.72,1130.98 1632.11,1133.74 1640.50,1136.25C1648.78,1138.73 1657.14,1140.62 1665.50,1142.50C1673.81,1144.37 1682.14,1146.25 1690.50,1147.50C1698.80,1148.74 1706.19,1149.10 1715.50,1150.00C1727.27,1151.14 1755.50,1153.75 1755.50,1153.75" stroke="#15ea12"/>
<path d="M728,1077 L740,1084 L755,1091 L775,1104.5 L783,1108 L787.5,1152 L782,1145 L775,1133 L765,1121 L755,1110.5 L745,1100 L735,1090 L728,1083Z" fill="#15ea12" stroke="none"/>
<path d="M367.00,566.00C367.00,566.00 367.97,585.89 368.50,595.00C368.97,603.11 369.42,617.99 370.00,618.00C370.58,618.01 371.45,603.48 372.00,595.00C372.68,584.56 372.92,571.66 373.50,560.00C374.08,548.33 374.92,536.67 375.50,525.00C376.08,513.34 376.52,502.06 377.00,490.00C377.52,477.11 377.96,462.37 378.50,450.00C378.97,439.28 379.38,428.98 380.00,420.00C380.50,412.65 381.25,408.18 381.75,400.00C382.54,387.09 382.88,366.67 383.50,350.00C384.13,333.33 384.74,314.81 385.50,300.00C386.11,288.14 386.48,276.47 387.50,268.00C388.18,262.36 388.71,256.47 390.00,254.00C390.58,252.90 391.42,251.86 392.00,252.00C392.86,252.20 393.43,255.45 394.00,258.00C394.93,262.19 395.32,268.79 396.00,275.00C396.82,282.53 397.32,293.21 398.50,300.00C399.33,304.76 400.24,307.74 401.50,312.00C402.98,316.98 405.53,322.38 407.00,328.00C408.58,334.01 409.52,339.77 410.50,347.00C411.78,356.47 412.28,369.77 413.40,380.00C414.38,388.92 415.55,397.04 416.70,405.00C417.76,412.31 418.75,419.73 420.00,426.00C421.03,431.16 421.19,436.98 423.40,440.00C425.02,442.21 428.10,442.24 430.00,444.00C432.00,445.86 433.29,448.27 435.00,451.00C437.20,454.51 439.68,463.46 441.80,463.50C443.57,463.53 445.58,458.46 446.80,455.00C448.41,450.43 448.63,444.23 449.30,438.00C450.11,430.48 450.56,420.41 451.00,413.00C451.35,407.08 450.88,401.51 451.80,397.00C452.51,393.51 453.58,390.99 455.10,388.00C456.80,384.65 459.88,381.59 461.80,378.00C463.80,374.27 465.11,366.24 466.80,366.00C467.86,365.85 469.08,368.25 470.00,370.00C471.31,372.49 472.38,376.18 473.00,380.00C473.79,384.87 473.15,390.41 473.50,397.00C473.98,406.20 475.17,418.96 476.00,430.00C476.84,441.12 477.52,452.34 478.50,463.50C479.48,474.67 480.83,484.82 481.90,497.00C483.18,511.56 483.96,531.94 485.50,545.00C486.57,554.09 488.02,562.84 489.20,568.00C489.81,570.67 490.30,573.94 491.00,574.00C491.59,574.05 492.45,571.84 493.00,570.00C494.04,566.50 494.26,560.08 494.80,554.00C495.51,545.97 496.09,535.92 496.60,526.00C497.18,514.76 497.60,500.25 498.00,490.00C498.30,482.36 497.58,470.42 498.80,470.00C499.24,469.85 500.04,470.89 500.50,472.00C501.71,474.92 501.54,482.36 502.00,490.00C502.80,503.34 503.22,525.25 504.00,545.00C504.91,568.07 506.11,600.63 507.20,620.00C507.89,632.26 508.59,640.09 509.30,650.00C509.99,659.75 510.66,668.81 511.40,679.00C512.22,690.35 513.02,704.48 514.00,715.00C514.77,723.24 515.28,731.02 516.50,737.00C517.37,741.25 518.43,747.55 519.70,747.70C520.68,747.82 521.86,744.29 523.00,742.00C524.60,738.78 526.25,734.68 528.00,730.00C530.38,723.61 533.55,714.64 535.60,707.00C537.58,699.64 538.83,692.59 540.20,685.00C541.65,676.95 542.98,667.48 544.00,660.00C544.83,653.94 545.43,649.58 546.00,643.50C546.71,636.04 546.72,623.61 547.70,618.50C548.15,616.16 548.70,613.50 549.30,613.50C550.08,613.50 551.01,619.23 552.00,622.00C552.98,624.73 554.10,630.01 555.20,630.00C556.43,629.99 557.71,623.56 559.00,620.00C560.47,615.96 562.12,607.09 563.50,607.00C564.38,606.94 565.28,609.82 566.00,612.00C567.18,615.60 567.74,621.36 568.60,627.00C569.71,634.27 570.87,643.08 571.90,652.00C573.09,662.23 574.03,672.15 575.20,685.00C576.84,703.02 577.88,731.36 580.50,750.00C582.50,764.27 585.29,776.01 588.00,787.50C590.34,797.42 592.20,807.83 595.50,815.00C597.91,820.22 601.83,827.72 604.00,827.50C605.79,827.32 606.89,821.47 608.00,818.00C609.26,814.06 610.06,810.42 610.90,805.00C612.27,796.20 612.72,780.43 614.00,770.00C615.04,761.51 616.56,746.99 617.60,747.00C618.52,747.01 619.23,758.00 620.00,765.00C621.07,774.73 621.94,789.96 623.00,800.00C623.80,807.60 624.86,820.02 625.50,820.00C626.28,819.97 626.55,801.27 627.00,790.00C627.58,775.45 627.88,754.26 628.50,740.00C628.97,729.32 629.33,712.03 630.10,712.00C630.62,711.98 631.36,718.80 632.00,725.00C633.57,740.30 634.99,784.36 636.80,805.00C637.95,818.09 639.47,826.24 640.50,837.00C641.54,847.91 642.10,859.77 643.00,870.00C643.78,878.92 644.29,888.58 645.50,895.00C646.28,899.13 647.30,904.98 648.30,905.00C649.30,905.02 650.63,898.95 651.50,895.00C652.71,889.52 653.28,883.71 654.00,875.00C655.35,858.76 655.64,825.76 656.90,805.00C657.91,788.34 659.37,774.56 660.50,760.00C661.56,746.28 662.38,730.87 663.50,720.00C664.28,712.49 665.08,701.01 666.00,701.00C666.92,700.99 668.15,712.40 669.00,720.00C670.25,731.24 670.99,747.91 671.75,762.00C672.52,776.24 672.98,790.50 673.60,805.00C674.23,819.83 674.71,832.17 675.50,850.00C676.66,876.14 677.88,921.20 680.00,946.70C681.40,963.48 682.30,979.32 685.00,988.30C686.39,992.94 688.44,998.31 690.00,998.30C691.42,998.29 692.56,992.58 694.00,990.00C695.34,987.60 697.05,983.27 698.30,983.30C699.33,983.33 700.23,986.13 701.00,988.00C701.99,990.40 702.59,992.83 703.30,996.70C704.66,1004.17 705.46,1017.78 706.70,1030.00C708.21,1044.98 709.77,1063.35 711.70,1080.00C713.63,1096.68 715.45,1115.09 718.30,1130.00C720.65,1142.30 723.24,1152.76 726.70,1163.30C729.97,1173.26 733.26,1184.12 738.30,1191.70C742.49,1198.00 748.03,1203.53 753.30,1206.70C757.59,1209.28 762.29,1211.05 766.70,1210.80C771.19,1210.54 775.77,1207.69 780.00,1205.00C784.68,1202.03 789.48,1197.88 793.30,1193.30C797.30,1188.51 800.34,1182.74 803.30,1176.70C806.55,1170.08 809.14,1159.58 811.70,1155.00C813.03,1152.62 814.42,1151.95 815.50,1150.00C816.76,1147.72 817.61,1144.84 818.50,1142.00C819.47,1138.88 820.18,1135.42 821.00,1132.00C821.85,1128.43 822.67,1124.67 823.50,1121.00C824.33,1117.33 825.15,1113.57 826.00,1110.00C826.82,1106.58 827.59,1103.32 828.50,1100.00C829.42,1096.66 830.50,1093.33 831.50,1090.00C832.50,1086.67 833.65,1083.81 834.50,1080.00C835.59,1075.11 836.31,1068.40 837.00,1063.00C837.62,1058.11 837.92,1053.66 838.50,1049.00C839.08,1044.33 839.77,1039.27 840.50,1035.00C841.12,1031.38 841.81,1028.70 842.50,1025.00C843.36,1020.40 844.44,1015.88 845.20,1009.50C846.41,999.38 846.71,983.20 847.80,970.00C848.90,956.70 850.54,945.64 851.80,930.00C853.58,907.92 854.97,875.45 856.70,850.00C858.28,826.75 860.32,805.53 861.70,783.30C863.08,761.10 863.42,736.91 865.00,716.70C866.33,699.73 867.72,682.77 870.00,670.00C871.62,660.92 874.05,646.98 875.80,647.00C877.34,647.01 878.72,657.66 880.00,665.00C881.96,676.27 883.61,693.99 885.00,708.30C886.36,722.32 887.58,733.44 888.30,750.00C889.35,774.29 887.33,813.99 889.00,840.00C890.28,860.03 893.69,873.83 895.40,893.00C897.42,915.58 898.59,944.38 899.70,967.00C900.63,986.13 900.01,1004.61 901.80,1020.00C903.20,1032.07 906.62,1038.59 908.00,1052.00C910.28,1074.17 907.39,1140.87 909.20,1141.00C910.18,1141.07 912.33,1128.32 913.40,1115.00C916.85,1071.95 913.24,916.34 913.40,840.00C913.52,785.53 913.80,742.75 914.00,700.00C914.17,663.87 914.33,633.33 914.50,600.00C914.67,566.67 914.75,533.33 915.00,500.00C915.25,466.67 915.75,433.33 916.00,400.00C916.25,366.67 916.33,333.33 916.50,300.00C916.67,266.67 916.82,231.48 917.00,200.00C917.16,171.85 917.17,142.86 917.50,120.00C917.74,102.86 917.79,85.61 918.50,75.00C918.89,69.17 919.50,61.50 920.00,61.50C920.50,61.50 921.13,69.17 921.50,75.00C922.18,85.61 922.09,102.86 922.30,120.00C922.57,142.86 922.61,171.85 922.80,200.00C923.01,231.48 923.22,266.67 923.50,300.00C923.78,333.33 924.17,366.67 924.50,400.00C924.83,433.33 925.17,466.67 925.50,500.00C925.83,533.33 925.75,566.67 926.50,600.00C927.25,633.34 928.90,663.87 930.00,700.00C931.30,742.75 932.63,798.47 933.60,840.00C934.38,873.30 934.94,903.28 935.50,930.00C935.95,951.45 934.39,976.39 936.70,988.00C937.74,993.24 939.46,996.12 941.00,999.00C942.11,1001.07 943.74,1001.97 944.50,1004.00C945.43,1006.47 945.15,1008.78 945.50,1013.00C946.33,1022.92 947.44,1049.19 948.30,1063.00C948.91,1072.77 948.77,1087.89 950.00,1088.00C951.12,1088.10 953.61,1067.94 955.00,1068.00C956.38,1068.06 957.26,1080.82 958.30,1088.00C959.51,1096.32 960.23,1114.93 961.70,1115.00C963.07,1115.06 964.69,1092.06 966.70,1092.00C969.01,1091.94 972.74,1122.10 975.00,1122.00C977.12,1121.91 977.68,1095.19 980.00,1095.00C982.19,1094.82 985.83,1118.10 988.30,1118.00C990.84,1117.89 992.54,1093.14 995.00,1093.00C997.07,1092.88 999.64,1110.12 1001.70,1110.00C1004.15,1109.86 1005.23,1085.55 1008.30,1085.00C1010.61,1084.59 1014.38,1097.40 1016.70,1097.00C1019.72,1096.48 1020.50,1073.45 1023.30,1073.00C1025.24,1072.68 1027.86,1083.23 1030.00,1083.00C1032.94,1082.68 1034.71,1063.06 1038.30,1062.00C1040.73,1061.28 1044.43,1068.76 1046.70,1068.00C1050.02,1066.89 1049.90,1048.30 1053.30,1047.00C1055.57,1046.13 1059.30,1052.84 1061.70,1052.00C1065.42,1050.70 1066.29,1031.29 1070.00,1030.00C1072.38,1029.17 1075.79,1035.78 1078.30,1035.00C1082.27,1033.77 1084.24,1014.48 1088.30,1013.00C1090.82,1012.08 1094.29,1017.92 1096.70,1017.00C1100.38,1015.59 1101.19,999.22 1105.00,997.00C1107.37,995.62 1110.82,999.36 1113.30,998.00C1117.43,995.72 1118.91,979.77 1123.30,977.00C1126.18,975.18 1130.33,978.86 1133.30,977.00C1138.16,973.96 1140.15,956.38 1145.00,953.00C1147.98,950.93 1152.19,953.85 1155.00,952.00C1158.67,949.59 1161.23,941.70 1163.30,937.00C1165.00,933.13 1164.91,928.84 1167.00,926.00C1168.91,923.40 1172.62,923.35 1174.90,920.30C1178.52,915.46 1179.90,904.24 1183.10,897.10C1186.04,890.54 1190.22,884.72 1193.10,878.90C1195.65,873.74 1197.70,869.70 1199.70,864.00C1202.22,856.82 1203.78,847.89 1206.30,839.00C1209.21,828.74 1213.39,816.26 1216.30,806.00C1218.82,797.11 1221.04,789.96 1222.90,781.00C1225.01,770.81 1226.11,758.22 1227.90,748.00C1229.47,739.07 1230.97,729.39 1232.90,723.00C1234.16,718.84 1235.00,715.18 1237.00,713.00C1238.55,711.30 1240.83,710.03 1242.80,710.00C1244.83,709.97 1246.99,711.57 1249.00,713.00C1251.41,714.71 1253.68,716.92 1256.00,720.00C1259.35,724.44 1262.46,734.57 1266.00,738.00C1268.13,740.06 1270.39,741.91 1272.60,741.40C1275.91,740.63 1279.52,733.17 1282.60,728.00C1286.26,721.86 1289.61,713.32 1292.50,706.60C1295.01,700.75 1297.53,694.88 1299.10,690.00C1300.30,686.29 1300.78,683.34 1301.60,680.00C1302.42,676.67 1303.20,673.33 1304.00,670.00C1304.80,666.67 1305.62,663.34 1306.40,660.00C1307.18,656.67 1307.95,653.34 1308.70,650.00C1309.45,646.67 1310.18,643.34 1310.90,640.00C1311.62,636.67 1312.30,633.33 1313.00,630.00C1313.70,626.67 1314.42,623.33 1315.10,620.00C1315.78,616.67 1316.45,613.33 1317.10,610.00C1317.75,606.67 1318.38,603.33 1319.00,600.00C1319.62,596.67 1320.20,593.33 1320.80,590.00C1321.40,586.67 1322.02,583.33 1322.60,580.00C1323.18,576.67 1323.73,573.33 1324.30,570.00C1324.87,566.67 1325.45,563.33 1326.00,560.00C1326.55,556.67 1327.08,553.33 1327.60,550.00C1328.12,546.67 1328.60,543.33 1329.10,540.00C1329.60,536.67 1330.10,533.33 1330.60,530.00C1331.10,526.67 1331.62,523.33 1332.10,520.00C1332.58,516.67 1333.05,513.33 1333.50,510.00C1333.95,506.67 1334.37,503.33 1334.80,500.00C1335.23,496.67 1335.67,493.33 1336.10,490.00C1336.53,486.67 1336.98,483.33 1337.40,480.00C1337.82,476.67 1338.20,473.33 1338.60,470.00C1339.00,466.67 1339.40,463.33 1339.80,460.00C1340.20,456.67 1340.62,453.33 1341.00,450.00C1341.38,446.67 1341.73,443.33 1342.10,440.00C1342.47,436.67 1342.85,433.33 1343.20,430.00C1343.55,426.67 1343.85,423.33 1344.20,420.00C1344.55,416.67 1344.95,413.33 1345.30,410.00C1345.65,406.67 1345.97,403.33 1346.30,400.00C1346.63,396.67 1346.97,393.33 1347.30,390.00C1347.63,386.67 1347.98,383.33 1348.30,380.00C1348.62,376.67 1348.88,373.33 1349.20,370.00C1349.52,366.67 1349.88,363.33 1350.20,360.00C1350.52,356.67 1350.80,353.33 1351.10,350.00C1351.40,346.67 1351.68,343.33 1352.00,340.00C1352.32,336.67 1352.68,333.33 1353.00,330.00C1353.32,326.67 1353.60,323.33 1353.90,320.00C1354.20,316.67 1354.50,313.33 1354.80,310.00C1355.10,306.67 1355.40,303.33 1355.70,300.00C1356.00,296.67 1356.30,293.33 1356.60,290.00C1356.90,286.67 1357.18,283.33 1357.50,280.00C1357.82,276.67 1358.18,273.33 1358.50,270.00C1358.82,266.67 1359.10,263.33 1359.40,260.00C1359.70,256.67 1359.98,253.33 1360.30,250.00C1360.62,246.67 1360.97,243.33 1361.30,240.00C1361.63,236.67 1361.97,233.33 1362.30,230.00C1362.63,226.67 1362.97,223.33 1363.30,220.00C1363.63,216.67 1363.97,213.33 1364.30,210.00C1364.63,206.67 1364.95,203.33 1365.30,200.00C1365.65,196.67 1366.03,193.33 1366.40,190.00C1366.77,186.67 1367.13,183.33 1367.50,180.00C1367.87,176.67 1368.22,173.33 1368.60,170.00C1368.98,166.67 1369.40,163.33 1369.80,160.00C1370.20,156.67 1370.48,154.30 1371.00,150.00C1371.94,142.19 1373.62,126.88 1375.00,117.00C1376.13,108.91 1377.31,101.62 1378.50,95.00C1379.48,89.51 1380.38,84.47 1381.50,80.00C1382.42,76.31 1383.42,72.72 1384.50,70.00C1385.29,68.01 1385.91,66.09 1387.00,65.00C1387.85,64.15 1389.00,63.50 1390.00,63.50C1391.00,63.50 1392.10,64.17 1393.00,65.00C1394.18,66.09 1395.11,67.98 1396.00,70.00C1397.19,72.70 1398.08,76.31 1399.00,80.00C1400.12,84.47 1401.08,89.51 1402.00,95.00C1403.11,101.62 1404.00,108.92 1405.00,117.00C1406.23,126.88 1407.83,142.19 1408.70,150.00C1409.18,154.30 1409.43,156.67 1409.80,160.00C1410.17,163.33 1410.55,166.67 1410.90,170.00C1411.25,173.33 1411.55,176.67 1411.90,180.00C1412.25,183.33 1412.67,186.67 1413.00,190.00C1413.33,193.33 1413.58,196.67 1413.90,200.00C1414.22,203.33 1414.58,206.67 1414.90,210.00C1415.22,213.33 1415.48,216.67 1415.80,220.00C1416.12,223.33 1416.50,226.67 1416.80,230.00C1417.10,233.33 1417.32,236.67 1417.60,240.00C1417.88,243.33 1418.20,246.67 1418.50,250.00C1418.80,253.33 1419.10,256.67 1419.40,260.00C1419.70,263.33 1420.02,266.67 1420.30,270.00C1420.58,273.33 1420.83,276.67 1421.10,280.00C1421.37,283.33 1421.62,286.67 1421.90,290.00C1422.18,293.33 1422.52,296.67 1422.80,300.00C1423.08,303.33 1423.33,306.67 1423.60,310.00C1423.87,313.33 1424.12,316.67 1424.40,320.00C1424.68,323.33 1425.02,326.67 1425.30,330.00C1425.58,333.33 1425.82,336.67 1426.10,340.00C1426.38,343.33 1426.72,346.67 1427.00,350.00C1427.28,353.33 1427.52,356.67 1427.80,360.00C1428.08,363.33 1428.40,366.67 1428.70,370.00C1429.00,373.33 1429.30,376.67 1429.60,380.00C1429.90,383.33 1430.20,386.67 1430.50,390.00C1430.80,393.33 1431.10,396.67 1431.40,400.00C1431.70,403.33 1431.98,406.67 1432.30,410.00C1432.62,413.33 1432.97,416.67 1433.30,420.00C1433.63,423.33 1433.97,426.67 1434.30,430.00C1434.63,433.33 1434.97,436.67 1435.30,440.00C1435.63,443.33 1435.95,446.67 1436.30,450.00C1436.65,453.33 1437.03,456.67 1437.40,460.00C1437.77,463.33 1438.12,466.67 1438.50,470.00C1438.88,473.33 1439.30,476.67 1439.70,480.00C1440.10,483.33 1440.50,486.67 1440.90,490.00C1441.30,493.33 1441.68,496.67 1442.10,500.00C1442.52,503.33 1442.97,506.67 1443.40,510.00C1443.83,513.33 1444.25,516.67 1444.70,520.00C1445.15,523.33 1445.63,526.67 1446.10,530.00C1446.57,533.33 1447.02,536.67 1447.50,540.00C1447.98,543.33 1448.50,546.67 1449.00,550.00C1449.50,553.33 1449.98,556.67 1450.50,560.00C1451.02,563.33 1451.57,566.67 1452.10,570.00C1452.63,573.33 1453.13,576.67 1453.70,580.00C1454.27,583.34 1454.92,586.67 1455.50,590.00C1456.08,593.33 1456.60,596.67 1457.20,600.00C1457.80,603.34 1458.47,606.67 1459.10,610.00C1459.73,613.33 1460.35,616.67 1461.00,620.00C1461.65,623.33 1462.32,626.67 1463.00,630.00C1463.68,633.33 1464.40,636.67 1465.10,640.00C1465.80,643.33 1466.48,646.67 1467.20,650.00C1467.92,653.34 1468.65,656.67 1469.40,660.00C1470.15,663.34 1470.92,666.67 1471.70,670.00C1472.48,673.34 1473.28,676.67 1474.10,680.00C1474.92,683.34 1475.39,685.62 1476.60,690.00C1478.96,698.53 1484.31,715.45 1488.00,727.50C1491.43,738.72 1493.89,750.35 1498.00,760.00C1501.58,768.40 1506.24,775.27 1510.50,782.50C1514.58,789.42 1518.73,796.12 1523.00,802.50C1527.07,808.59 1530.39,815.38 1535.50,820.00C1540.45,824.47 1547.78,826.45 1553.00,830.00C1557.65,833.16 1561.38,836.51 1565.50,840.00C1569.72,843.58 1573.30,848.75 1578.00,851.25C1582.51,853.65 1588.51,853.88 1593.00,855.00C1596.67,855.92 1599.07,856.15 1603.00,857.50C1609.07,859.59 1617.83,866.09 1625.50,867.50C1632.84,868.85 1641.69,865.22 1648.00,866.25C1652.88,867.05 1655.97,869.53 1660.50,871.25C1665.83,873.27 1671.55,876.71 1678.00,877.50C1685.50,878.42 1694.72,874.40 1703.00,875.00C1711.39,875.61 1719.40,880.39 1728.00,881.25C1736.89,882.14 1755.50,880.00 1755.50,880.00" stroke="#0303d2"/>
</g></svg>
<line x1="394.2" y1="62.0" x2="394.2" y2="1246.3" stroke="#000" stroke-width="3.6" stroke-dasharray="15 13.5"/>
<line x1="1397.8" y1="62.0" x2="1397.8" y2="1246.3" stroke="#000" stroke-width="3.6" stroke-dasharray="15 13.5"/>
<g font-family='"Liberation Serif", "Times New Roman", serif' font-size="73" fill="#000">
<text x="257" y="1267.3" text-anchor="end">0.0</text>
<text x="257" y="1030.0" text-anchor="end">0.2</text>
<text x="257" y="792.8" text-anchor="end">0.4</text>
<text x="257" y="555.5" text-anchor="end">0.6</text>
<text x="257" y="318.3" text-anchor="end">0.8</text>
<text x="257" y="81.0" text-anchor="end">1.0</text>
<text x="283.0" y="1328" text-anchor="middle">0</text>
<text x="493.4" y="1328" text-anchor="middle">2</text>
<text x="703.8" y="1328" text-anchor="middle">4</text>
<text x="914.2" y="1328" text-anchor="middle">6</text>
<text x="1124.5" y="1328" text-anchor="middle">8</text>
<text x="1295.3 1334" y="1328">10</text>
<text x="1506.3 1544.7" y="1328">12</text>
<text x="1717 1754.5" y="1328">14</text>
</g>
<text font-family='"Liberation Serif", "Times New Roman", serif' font-size="88.5" x="0" y="0" text-anchor="middle" transform="translate(88.5,614) rotate(-90) scale(0.977,1)">Absorption</text>
<text font-family='"Liberation Serif", "Times New Roman", serif' font-size="88.5" x="0" y="0" text-anchor="middle" transform="translate(1041,1468) scale(0.988,1)">Wavelength, µm</text>
<line x1="565.2" y1="145.2" x2="728.2" y2="145.2" stroke="#de0c0a" stroke-width="8.5" stroke-linecap="round"/>
<text font-family='"Liberation Serif", "Times New Roman", serif' font-size="73" x="746" y="169.2">0°</text>
<line x1="565.2" y1="234.8" x2="728.2" y2="234.8" stroke="#15ea12" stroke-width="8.5" stroke-linecap="round"/>
<text font-family='"Liberation Serif", "Times New Roman", serif' font-size="73" x="746" y="258.8">30°</text>
<line x1="565.2" y1="324.8" x2="728.2" y2="324.8" stroke="#0303d2" stroke-width="8.5" stroke-linecap="round"/>
<text font-family='"Liberation Serif", "Times New Roman", serif' font-size="73" x="746" y="348.8">60°</text>
</svg>
</body></html>
